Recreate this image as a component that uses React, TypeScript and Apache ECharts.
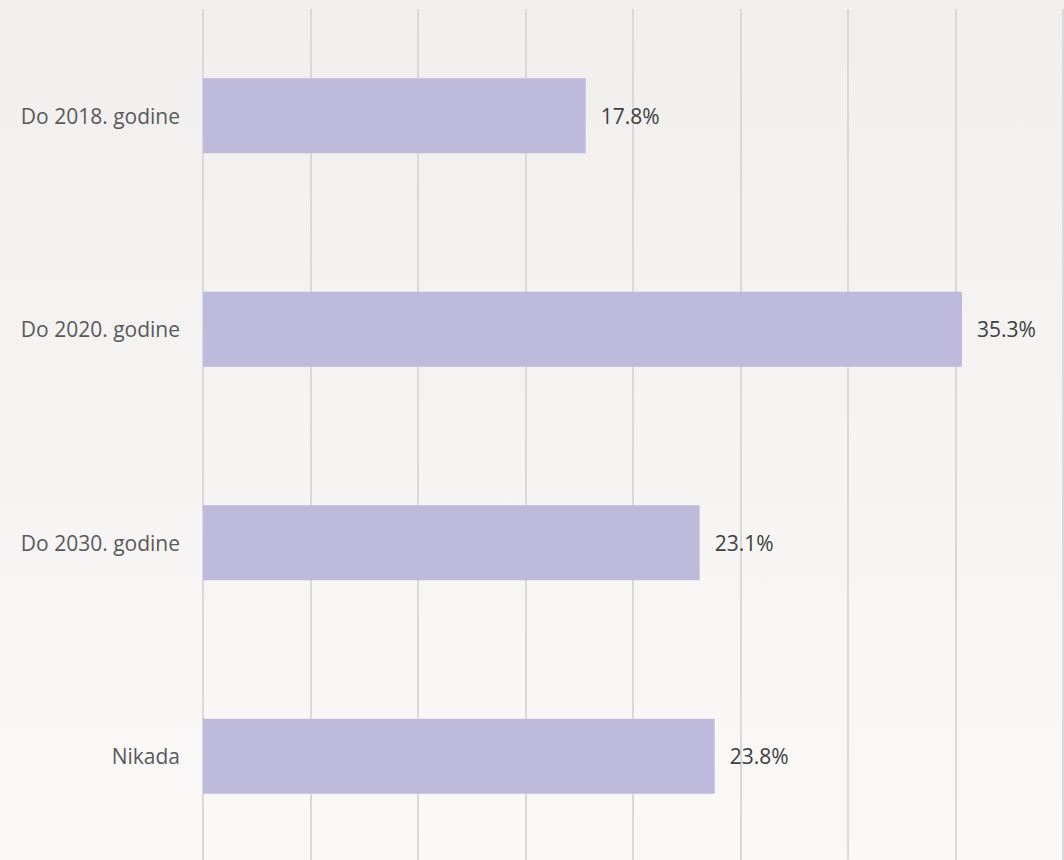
import React, { useEffect, useRef } from "react";
import * as echarts from "echarts";

const categories = ["Do 2018. godine", "Do 2020. godine", "Do 2030. godine", "Nikada"];
const values = [17.8, 35.3, 23.1, 23.8];

export default function App() {
  const ref = useRef<HTMLDivElement>(null);
  useEffect(() => {
    const chart = echarts.init(ref.current!, null, { renderer: "svg" });
    chart.setOption({
      animation: false,
      backgroundColor: {
        type: "linear",
        x: 0, y: 0, x2: 0, y2: 1,
        colorStops: [
          { offset: 0, color: "#f0efee" },
          { offset: 1, color: "#faf9f8" },
        ],
      },
      grid: { left: 203, right: 1, top: 9, bottom: 0, containLabel: false },
      xAxis: {
        type: "value",
        min: 0,
        max: 40,
        interval: 5,
        axisLabel: { show: false },
        axisLine: { show: false },
        axisTick: { show: false },
        splitLine: { show: true, lineStyle: { color: "#d9d9d9", width: 2 } },
      },
      yAxis: {
        type: "category",
        data: categories,
        inverse: true,
        axisLine: { show: false },
        axisTick: { show: false },
        splitLine: { show: false },
        axisLabel: {
          margin: 23,
          color: "#595959",
          fontFamily: "Open Sans",
          fontSize: 21,
        },
      },
      series: [
        {
          type: "bar",
          data: values,
          barWidth: 75,
          itemStyle: { color: "#bdbadb" },
          label: {
            show: true,
            position: "right",
            distance: 15,
            formatter: (p: any) => p.value.toFixed(1) + "%",
            color: "#404040",
            fontFamily: "Open Sans",
            fontSize: 21,
          },
        },
      ],
    });
    return () => chart.dispose();
  }, []);
  return (
    <div
      style={{
        position: "fixed",
        left: 0,
        top: 0,
        width: 1064,
        height: 860,
        overflow: "hidden",
      }}
    >
      <div ref={ref} style={{ width: 1064, height: 863 }} />
    </div>
  );
}
